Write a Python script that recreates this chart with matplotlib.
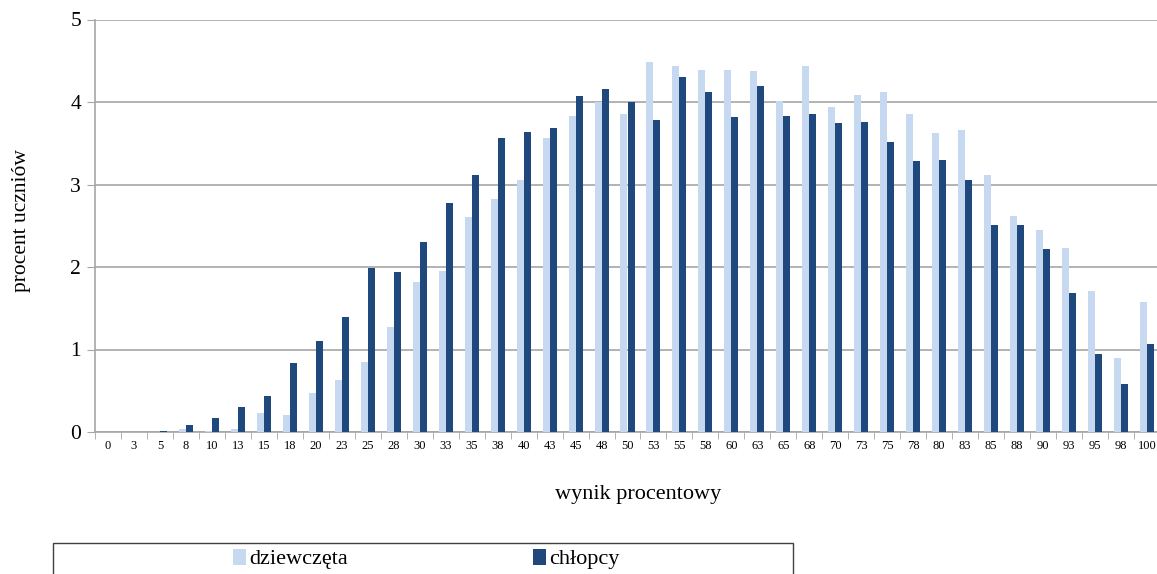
import numpy as np
import matplotlib.pyplot as plt
from matplotlib.patches import Rectangle

# ==========================================
# Data
# ==========================================

wyniki = ["0", "3", "5", "8", "10", "13", "15", "18", "20", "23", "25", "28",
          "30", "33", "35", "38", "40", "43", "45", "48", "50", "53", "55", "58",
          "60", "63", "65", "68", "70", "73", "75", "78", "80", "83", "85", "88",
          "90", "93", "95", "98", "100"]

dziewczeta = [0.0, 0.0, 0.0, 0.04, 0.015, 0.04, 0.23, 0.21, 0.47, 0.63, 0.85, 1.275,
              1.82, 1.95, 2.61, 2.82, 3.06, 3.56, 3.83, 4.0, 3.86, 4.48, 4.44, 4.39,
              4.39, 4.37, 4.01, 4.44, 3.94, 4.08, 4.12, 3.85, 3.62, 3.66, 3.12, 2.62,
              2.45, 2.23, 1.71, 0.90, 1.57]

chlopcy = [0.0, 0.0, 0.015, 0.085, 0.165, 0.30, 0.44, 0.835, 1.10, 1.39, 1.99, 1.94,
           2.30, 2.77, 3.12, 3.56, 3.64, 3.68, 4.07, 4.16, 4.0, 3.78, 4.30, 4.12,
           3.82, 4.20, 3.83, 3.85, 3.74, 3.76, 3.51, 3.28, 3.30, 3.06, 2.51, 2.51,
           2.22, 1.68, 0.95, 0.58, 1.07]

LIGHT = "#c6d9f1"
DARK = "#1f497d"
GRID = "#a6a6a6"

# ==========================================
# Plot
# ==========================================

plt.rcParams["font.family"] = ["Liberation Serif", "DejaVu Serif"]

W, H = 1157, 574
fig = plt.figure(figsize=(W / 100, H / 100), dpi=100)
ax = fig.add_axes([95 / W, (H - 432) / H, (1160 - 95) / W, (432 - 19.5) / H])

x = np.arange(len(wyniki))
bw = 0.27
ax.bar(x - bw / 2, dziewczeta, width=bw, color=LIGHT, label="dziewczęta", zorder=3)
ax.bar(x + bw / 2, chlopcy, width=bw, color=DARK, label="chłopcy", zorder=3)

ax.set_xlim(-0.5, len(wyniki) - 0.5)
ax.set_ylim(0, 5)
ax.set_yticks(range(6))
ax.set_yticklabels([str(v) for v in range(6)], fontsize=15.5)
ax.set_xticks(x)
ax.set_xticklabels(wyniki, fontsize=9)
ax.set_xticks(np.arange(-0.5, len(wyniki), 1), minor=True)
ax.tick_params(axis="x", which="major", length=0, pad=6)
ax.tick_params(axis="x", which="minor", length=5, color=GRID, direction="out")
ax.tick_params(axis="y", length=6, color=GRID, pad=4)

ax.grid(axis="y", color=GRID, linewidth=1.2, zorder=0)
for side in ["top", "right"]:
    ax.spines[side].set_visible(False)
for side in ["left", "bottom"]:
    ax.spines[side].set_color(GRID)
    ax.spines[side].set_linewidth(1.2)

fig.text(22 / W, 1 - 221 / H, "procent uczniów", rotation=90,
         ha="center", va="center", fontsize=15.5)
fig.text(638 / W, 1 - 495 / H, "wynik procentowy", ha="center", va="center",
         fontsize=16)

# legend box, cut off at the bottom like in the reference
fig.patches.append(Rectangle((53 / W, -0.05), (793 - 53) / W, 0.05 + (H - 543) / H,
                             transform=fig.transFigure, fill=False,
                             edgecolor="#404040", linewidth=1.0))
fig.legend(loc="center left", bbox_to_anchor=(233 / W, 1 - 559 / H), ncol=2,
           frameon=False, fontsize=16, handlelength=0.6, handleheight=0.75,
           handletextpad=0.15, columnspacing=8.3, borderpad=0, borderaxespad=0)

fig.savefig("out.png", dpi=100)
